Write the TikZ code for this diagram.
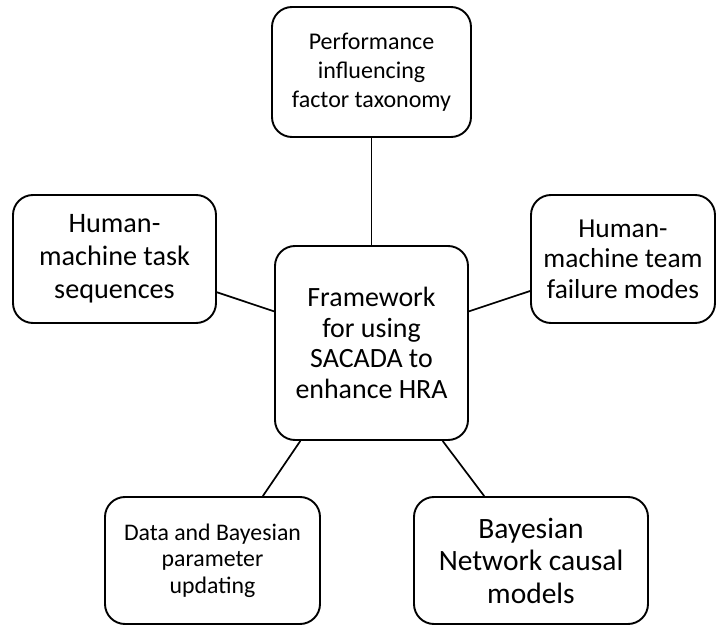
\documentclass[tikz,border=0pt]{standalone}
\usepackage{fontspec}
\setmainfont{Carlito}
\newlength{\du}
\setlength{\du}{15\unitlength}
\tikzset{
  roundbox/.style={draw, line width=1.9pt, rounded corners=20pt, align=center, inner sep=0pt},
  link/.style={line width=1.7pt}
}
\begin{document}
\begin{tikzpicture}
\pgftransformxscale{1.000000}
\pgftransformyscale{-1.000000}
\useasboundingbox (0\du,0\du) rectangle (47.733333\du,41.733333\du);
% centre box
\node[roundbox, minimum width=12.866667\du, minimum height=12.933333\du, font=\fontsize{27.9}{30.5}\selectfont] (frame) at (24.766667\du,22.866667\du){Framework\\for using\\SACADA to\\enhance HRA};
% outer boxes
\node[roundbox, minimum width=13.266667\du, minimum height=8.666667\du, font=\fontsize{24}{29}\selectfont] (pif) at (24.766667\du,4.800000\du){Performance\\influencing\\factor taxonomy};
\node[roundbox, minimum width=13.533333\du, minimum height=8.533333\du, font=\fontsize{28.2}{33}\selectfont] (hmts) at (7.633333\du,17.266667\du){Human-\\machine task\\sequences};
\node[roundbox, minimum width=12.266667\du, minimum height=8.533333\du, font=\fontsize{27.4}{30.5}\selectfont] (hmtf) at (41.533333\du,17.266667\du){Human-\\machine team\\failure modes};
\node[roundbox, minimum width=14.333333\du, minimum height=8.466667\du, font=\fontsize{23.8}{26.5}\selectfont] (dbpu) at (14.166667\du,37.366667\du){Data and Bayesian\\parameter\\updating};
\node[roundbox, minimum width=15.600000\du, minimum height=8.466667\du, font=\fontsize{29.5}{32.5}\selectfont] (bncm) at (35.400000\du,37.366667\du){Bayesian\\Network causal\\models};
% connectors
\draw[link] (pif.south) -- (frame.north);
\draw[link] (hmts.-18) -- (frame.162);
\draw[link] (hmtf.-161.5) -- (frame.18);
\draw[link] (dbpu.52.5) -- (frame.-126);
\draw[link] (bncm.126.4) -- (frame.-54);
\end{tikzpicture}
\end{document}
